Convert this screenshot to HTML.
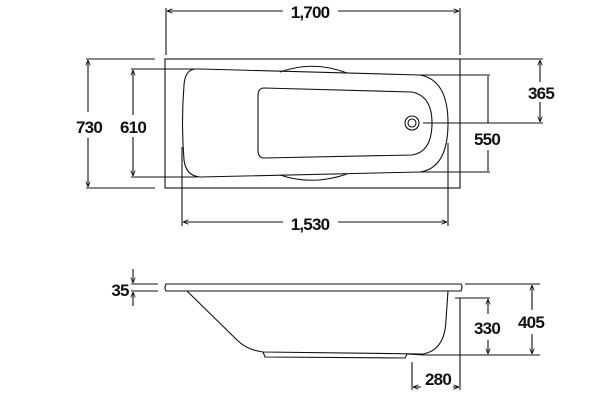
<!DOCTYPE html>
<html><head><style>
html,body{margin:0;padding:0;background:#fff;width:600px;height:400px;overflow:hidden}
svg{display:block}
text{font-family:"Liberation Sans",Arial,sans-serif;font-weight:bold;font-size:17px;fill:#111;letter-spacing:-0.8px}
</style></head><body>
<svg width="600" height="400" viewBox="0 0 600 400">
<defs>
<marker id="a" viewBox="0 0 10 10" refX="10" refY="5" markerWidth="5" markerHeight="5" orient="auto-start-reverse"><path d="M0,1 L10,5 L0,9" fill="none" stroke="#111" stroke-width="1.5"/></marker>
</defs>
<g stroke="#111" stroke-width="1.1" fill="none">
<rect x="165" y="59" width="295" height="129"/>
<path d="M195,69 Q185,70 184,85 Q181,123 184,160 Q186,176 200,177 L420,172 Q448,168 448,123 Q448,80 420,75 L200,69 Q197,69 195,69Z"/>
<path d="M280,72 Q313,60 347,73"/>
<path d="M280,175 Q313,186 347,174"/>
<path d="M264,88 L412,92 Q432,96 432,123 Q432,152 412,155 L264,158 Q258,158 258,150 L258,96 Q258,88 264,88Z"/>
<circle cx="412" cy="123" r="7"/>
<circle cx="412" cy="123" r="4"/>
<line x1="166" y1="8" x2="166" y2="55"/><line x1="460" y1="8" x2="460" y2="55"/>
<line x1="167" y1="11" x2="283" y2="11" marker-start="url(#a)"/>
<line x1="338" y1="11" x2="459" y2="11" marker-end="url(#a)"/>
<line x1="86" y1="59" x2="155" y2="59"/><line x1="86" y1="188" x2="155" y2="188"/>
<line x1="88" y1="60" x2="88" y2="112" marker-start="url(#a)"/>
<line x1="88" y1="138" x2="88" y2="187" marker-end="url(#a)"/>
<line x1="131" y1="69" x2="197" y2="69"/><line x1="131" y1="177" x2="197" y2="177"/>
<line x1="133" y1="70" x2="133" y2="115" marker-start="url(#a)"/>
<line x1="133" y1="137" x2="133" y2="176" marker-end="url(#a)"/>
<line x1="460" y1="59" x2="543" y2="59"/><line x1="423" y1="123" x2="543" y2="123"/>
<line x1="540" y1="60" x2="540" y2="82" marker-start="url(#a)"/>
<line x1="540" y1="102" x2="540" y2="122" marker-end="url(#a)"/>
<line x1="417" y1="75" x2="490" y2="75"/><line x1="417" y1="172" x2="490" y2="172"/>
<line x1="488" y1="76" x2="488" y2="123"/>
<line x1="488" y1="150" x2="488" y2="171"/>
<line x1="182" y1="147" x2="182" y2="226"/><line x1="448" y1="143" x2="448" y2="226"/>
<line x1="183" y1="222" x2="283" y2="222" marker-start="url(#a)"/>
<line x1="338" y1="222" x2="447" y2="222" marker-end="url(#a)"/>
<path d="M166,284 L461,284 Q463,286 461,291 L166,291 Q164,288 166,284Z"/>
<path d="M187,291 L237,340 Q247,350 263,352 L423,354 Q445,350 446,320 L448,291"/>
<path d="M263,352 L265,357 L405,358 L407,354"/>
<path d="M407,354 L423,355"/>
<line x1="131" y1="284" x2="158" y2="284"/><line x1="131" y1="291" x2="158" y2="291"/>
<line x1="133" y1="269" x2="133" y2="283" marker-end="url(#a)"/>
<line x1="133" y1="306" x2="133" y2="292" marker-end="url(#a)"/>
<line x1="465" y1="284" x2="540" y2="284"/><line x1="423" y1="355" x2="540" y2="355"/>
<line x1="532" y1="285" x2="532" y2="310" marker-start="url(#a)"/>
<line x1="532" y1="334" x2="532" y2="354" marker-end="url(#a)"/>
<line x1="455" y1="298" x2="490" y2="298"/>
<line x1="488" y1="299" x2="488" y2="314" marker-start="url(#a)"/>
<line x1="488" y1="340" x2="488" y2="354" marker-end="url(#a)"/>
<line x1="412" y1="362" x2="412" y2="390"/><line x1="460" y1="298" x2="460" y2="390"/>
<line x1="413" y1="387" x2="421" y2="387" marker-start="url(#a)"/>
<line x1="453" y1="387" x2="459" y2="387" marker-end="url(#a)"/>
</g>
<text x="310" y="18" text-anchor="middle">1,700</text>
<text x="89" y="133" text-anchor="middle">730</text>
<text x="133" y="133" text-anchor="middle">610</text>
<text x="541" y="99" text-anchor="middle">365</text>
<text x="487" y="145" text-anchor="middle">550</text>
<text x="310" y="230" text-anchor="middle">1,530</text>
<text x="120" y="296" text-anchor="middle">35</text>
<text x="531" y="328" text-anchor="middle">405</text>
<text x="487" y="334" text-anchor="middle">330</text>
<text x="438" y="385" text-anchor="middle">280</text>
</svg>
</body></html>
